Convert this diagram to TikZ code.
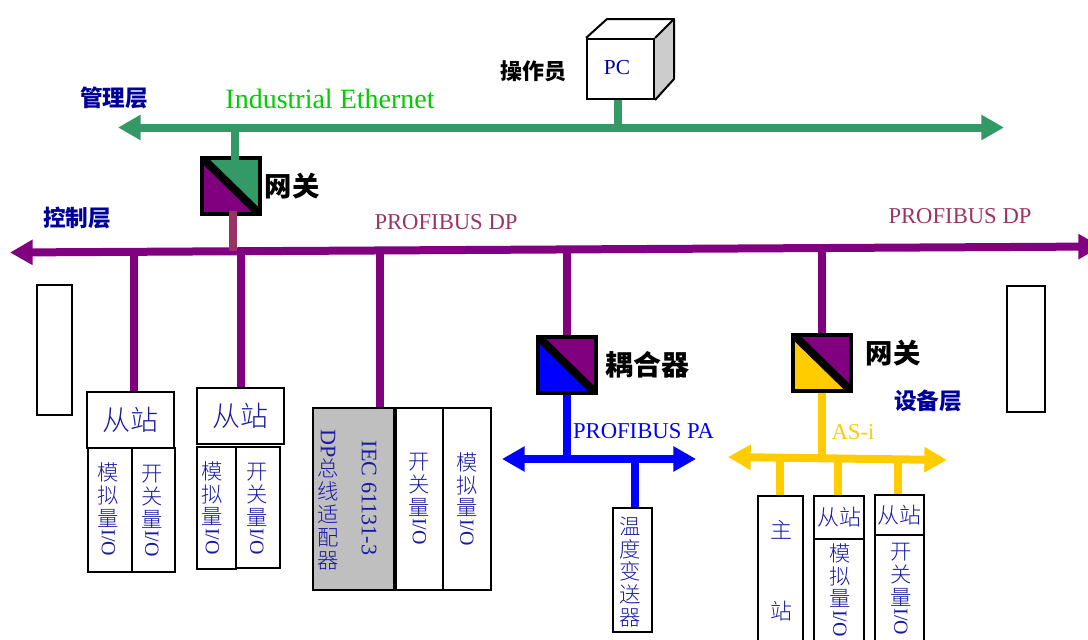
\documentclass[tikz,border=0pt]{standalone}
\usepackage{graphicx}
\usepackage{fontspec}
\setmainfont{Liberation Serif}
\newfontfamily\cjk{Noto Sans CJK SC}
\newfontfamily\cjkl{Noto Sans CJK SC Light}
\usetikzlibrary{arrows.meta}
\definecolor{gr}{HTML}{339966}
\definecolor{pu}{HTML}{800080}
\definecolor{bl}{HTML}{0000FF}
\definecolor{ye}{HTML}{FFCC00}
\definecolor{nv}{HTML}{000099}
\definecolor{pk}{HTML}{993366}
\definecolor{tx}{HTML}{1A1AA0}
\newcommand{\bx}[7][]{\node[boxs,#1,minimum width={(#4-#2)*0.75pt},minimum height={(#5-#3)*0.75pt}] (#7) at ({(#2+#4)/2},{(#3+#5)/2}) {#6};}
\newcommand{\vio}[3]{#1\\#2\\#3\\\rotatebox[origin=c]{-90}{\rmfamily\fontsize{15}{17}\selectfont I/O}}
\tikzset{
  boxs/.style={draw=black,line width=1.5pt,inner sep=0pt,align=center,text=tx,font=\cjkl\fontsize{16}{17.2}\selectfont},
  bus/.style={line width=6pt,{Triangle[length=17pt,width=18pt]}-{Triangle[length=17pt,width=18pt]}},
  tap/.style={line width=6pt},
  vtxt/.style={inner sep=0pt,align=center,text=tx,font=\cjkl\fontsize{16}{17.2}\selectfont},
  layer/.style={inner sep=0pt,text=nv,font=\cjk\bfseries\fontsize{17}{19}\selectfont},
  blk/.style={inner sep=0pt,text=black,font=\cjk\bfseries\fontsize{#1}{22}\selectfont},
  busl/.style={inner sep=0pt,font=\fontsize{17}{19}\selectfont},
  gate/.style n args={2}{draw=black,line width=3pt,inner sep=0pt,minimum width=43pt,minimum height=42pt,
    path picture={
      \fill[#1] (path picture bounding box.north west)--(path picture bounding box.north east)--(path picture bounding box.south east)--cycle;
      \fill[#2] (path picture bounding box.north west)--(path picture bounding box.south west)--(path picture bounding box.south east)--cycle;
      \draw[black,line width=6pt] (path picture bounding box.north west)--(path picture bounding box.south east);
    }}
}
\begin{document}
\begin{tikzpicture}[x=0.75pt,y=-0.75pt]
\useasboundingbox (0,0) rectangle (1088,639);
\clip (0,0) rectangle (1088,639);
% bus end points
\coordinate (gL) at (118,127.5); \coordinate (gR) at (1004,127.5);
\coordinate (pL) at (10,252.5); \coordinate (pR) at (1101,246.5);
\coordinate (bL) at (502,459); \coordinate (bR) at (696,459);
\coordinate (yL) at (728,457); \coordinate (yR) at (947,460);
\draw[bus,gr] (gL)--(gR);
\draw[bus,pu] (pL)--(pR);
\draw[bus,bl] (bL)--(bR);
\draw[bus,ye] (yL)--(yR);
% PC
\bx[line width=1.5pt]{587}{39}{654}{99}{}{pc}
\coordinate (pcA) at (607,19); \coordinate (pcB) at (674,19); \coordinate (pcC) at (674,79);
\fill[black!20] (pc.north east)--(pcB)--(pcC)--(pc.south east)--cycle;
\draw[line width=1.5pt,line join=round] (pc.north west)--(pcA)--(pcB)--(pc.north east) (pcB)--(pcC)--(pc.south east);
\node[inner sep=0pt,text=nv,font=\fontsize{16}{18}\selectfont] (pcT) at (617,68) {PC};
% gateways
\node[gate={gr}{pu}] (gw1) at (231,186) {};
\node[gate={pu}{bl}] (cp) at (567,365) {};
\node[gate={pu}{ye}] (gw2) at (822,362.5) {};
% left and right empty boxes
\bx{37}{285}{72}{415}{}{lb}
\bx{1007}{286}{1045}{412}{}{rb}
% slave 1
\bx[font=\cjkl\fontsize{21}{24}\selectfont]{87}{392}{174}{448}{从站}{s1}
\bx{88}{448}{132}{572}{}{s1a}
\node[vtxt] (s1at) at (108.5,509.5) {\vio{模}{拟}{量}};
\bx{132}{448}{175}{572}{}{s1b}
\node[vtxt] (s1bt) at (152,511) {\vio{开}{关}{量}};
% slave 2
\bx[font=\cjkl\fontsize{21}{24}\selectfont]{197}{388}{284}{444}{从站}{s2}
\bx{197}{447}{236}{569}{}{s2a}
\node[vtxt] (s2at) at (212.5,508) {\vio{模}{拟}{量}};
\bx{236}{447}{280}{568}{}{s2b}
\node[vtxt] (s2bt) at (257,509) {\vio{开}{关}{量}};
% adapter
\bx[fill=black!25,line width=2.2pt]{313}{408}{394}{590}{}{ad}
\node[vtxt,rotate=-90,font=\fontsize{16.6}{18}\selectfont] (adT) at (369,498) {IEC 61131-3};
\node[vtxt] (adU) at (328,499.5) {\rotatebox[origin=c]{-90}{\rmfamily\fontsize{16.6}{18}\selectfont DP}\\总\\线\\适\\配\\器};
\bx{396}{408}{443}{590}{\vio{开}{关}{量}}{a1}
\bx{443}{408}{491}{590}{\vio{模}{拟}{量}}{a2}
% transmitter
\bx{613}{508}{652}{632}{}{tt}
\node[vtxt] (ttt) at (630,572) {温\\度\\变\\送\\器};
% AS-i
\bx{758}{496}{803}{670}{}{ma}
\node[vtxt,font=\cjkl\fontsize{16.5}{20}\selectfont] (ma1) at (781,530) {主};
\node[vtxt,font=\cjkl\fontsize{16.5}{20}\selectfont] (ma2) at (781,611) {站};
\bx[font=\cjkl\fontsize{16.5}{20}\selectfont]{814}{496}{864}{539}{从站}{y1}
\bx{814}{539}{864}{690}{}{y1a}
\node[vtxt,anchor=north] (y1t) at (840,543) {\vio{模}{拟}{量}};
\bx[font=\cjkl\fontsize{16.5}{20}\selectfont]{875}{495}{924}{535}{从站}{y2}
\bx{875}{535}{924}{690}{}{y2a}
\node[vtxt,anchor=north] (y2t) at (901,543) {\vio{开}{关}{量}};
% taps
\coordinate (tg1) at (235,127.5); \coordinate (tg1e) at (235,166);
\draw[tap,gr] (tg1)--(tg1e);
\coordinate (tg2) at (618,127.5);
\draw[tap,gr] (tg2)--(tg2 |- pc.south);
\coordinate (tm) at (233,251);
\coordinate (tme) at (233,211);
\draw[tap,pk] (tme)--(tm);
\coordinate (t1) at (134,252); \draw[tap,pu] (t1)--(t1 |- s1.north);
\coordinate (t2) at (241,251); \draw[tap,pu] (t2)--(t2 |- s2.north);
\coordinate (t3) at (380,251); \draw[tap,pu] (t3)--(t3 |- ad.north);
\draw[tap,pu] (567,250) coordinate (t4)--(cp.north);
\draw[tap,pu] (822,248) coordinate (t5)--(gw2.north);
\draw[tap,bl] (cp.south)--(cp.south |- bL);
\coordinate (t6) at (635,459); \draw[tap,bl] (t6)--(t6 |- tt.north);
\draw[tap,ye] (gw2.south)--(822,458) coordinate (t7);
\coordinate (t8) at (780,458); \draw[tap,ye] (t8)--(t8 |- ma.north);
\coordinate (t9) at (838,458); \draw[tap,ye] (t9)--(t9 |- y1.north);
\coordinate (t10) at (898,459); \draw[tap,ye] (t10)--(t10 |- y2.north);
% labels
\node[layer] (l1) at (114,98) {管理层};
\node[layer] (l2) at (77,218) {控制层};
\node[layer] (l3) at (928,401) {设备层};
\node[blk=16.5] (op) at (533,71) {操作员};
\node[blk=20.5] (n1) at (292,186) {网关};
\node[blk=20.5] (n2) at (893,353) {网关};
\node[blk=21] (n3) at (647,365) {耦合器};
\node[inner sep=0pt,text={rgb,255:red,0;green,204;blue,0},font=\fontsize{21}{23}\selectfont] (ie) at (330,99) {Industrial Ethernet};
\node[busl,text=pk] (dp1) at (446,222) {PROFIBUS DP};
\node[busl,text=pk] (dp2) at (960,216) {PROFIBUS DP};
\node[busl,text=bl] (pa) at (643.5,431) {PROFIBUS PA};
\node[busl,text=ye] (as) at (853,432) {AS-i};
\end{tikzpicture}
\end{document}
